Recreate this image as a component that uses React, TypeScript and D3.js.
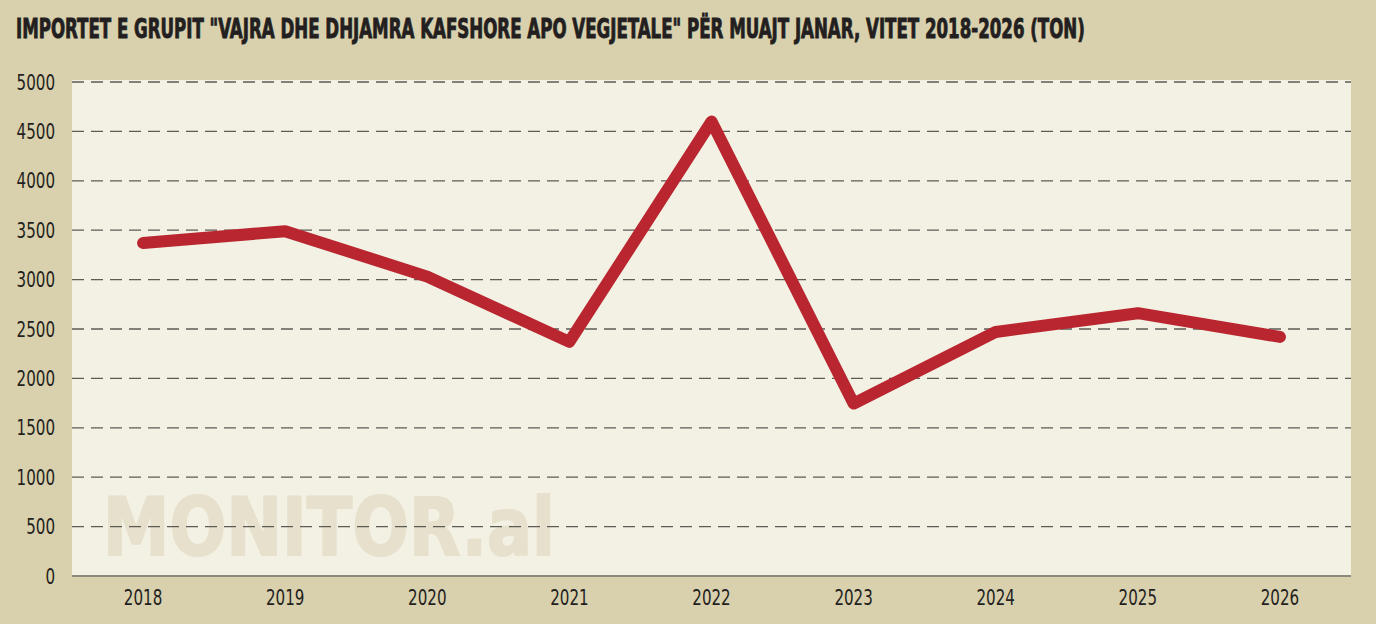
import React, { useLayoutEffect, useRef, useState } from "react";
import * as d3 from "d3";

const years = ["2018", "2019", "2020", "2021", "2022", "2023", "2024", "2025", "2026"];
const imports = [3370, 3490, 3030, 2370, 4600, 1745, 2470, 2660, 2420];
const yTicks = [0, 500, 1000, 1500, 2000, 2500, 3000, 3500, 4000, 4500, 5000];
const title = "IMPORTET E GRUPIT \"VAJRA DHE DHJAMRA KAFSHORE APO VEGJETALE\" PËR MUAJT JANAR, VITET 2018-2026 (TON)";
const watermark = "MONITOR.al";

const W = 1376;
const H = 624;
const plot = { left: 72, right: 1351, top: 80, bottom: 576 };

function FitText(props: {
  x: number;
  y: number;
  width: number;
  children: string;
  [k: string]: any;
}) {
  const { x, y, width, children, ...rest } = props;
  const ref = useRef<SVGTextElement>(null);
  const [s, setS] = useState(1);
  useLayoutEffect(() => {
    if (ref.current) {
      const len = ref.current.getComputedTextLength();
      if (len > 0) setS(width / len);
    }
  }, [width, children]);
  return (
    <g transform={`translate(${x},${y}) scale(${s},1)`}>
      <text ref={ref} x={0} y={0} {...rest}>
        {children}
      </text>
    </g>
  );
}

export default function App() {
  const x = d3.scaleBand<string>().domain(years).range([plot.left, plot.right]);
  const y = d3.scaleLinear().domain([0, 5000]).range([plot.bottom, 82]);
  const line = d3
    .line<number>()
    .x((_, i) => (x(years[i]) as number) + x.bandwidth() / 2)
    .y((d) => y(d));
  const narrow = "'DejaVu Sans Condensed', 'DejaVu Sans', sans-serif";
  const sx = 0.8;
  return (
    <svg
      width={W}
      height={H}
      style={{ position: "absolute", left: 0, top: 0, display: "block" }}
    >
      <rect x={0} y={0} width={W} height={H} fill="#d9d0ad" />
      <FitText
        x={16}
        y={38}
        width={1070}
        fontFamily="'DejaVu Sans Condensed', 'DejaVu Sans', sans-serif"
        fontWeight="bold"
        fontSize={27}
        fill="#231f20"
        stroke="#231f20"
        strokeWidth={0.9}
      >
        {title}
      </FitText>
      <rect
        x={plot.left}
        y={plot.top}
        width={plot.right - plot.left}
        height={plot.bottom - plot.top}
        fill="#f3f0e4"
      />
      <FitText
        x={103}
        y={555}
        width={452}
        fontFamily="'DejaVu Sans', sans-serif"
        fontWeight="bold"
        fontSize={80}
        fill="#e6e0cc"
        stroke="#e6e0cc"
        strokeWidth={2}
      >
        {watermark}
      </FitText>
      {yTicks
        .filter((t) => t > 0)
        .map((t) => (
          <line
            key={t}
            x1={plot.left}
            x2={plot.right}
            y1={y(t)}
            y2={y(t)}
            stroke="#5e5b55"
            strokeWidth={1.3}
            strokeDasharray="12,7"
          />
        ))}
      <line
        x1={plot.left}
        x2={plot.right}
        y1={plot.bottom}
        y2={plot.bottom}
        stroke="#8d887c"
        strokeWidth={2}
      />
      {yTicks.map((t) => (
        <g key={t} transform={`translate(55,${y(t)}) scale(${sx},1)`}>
          <text
            x={0}
            y={0}
            dy="0.36em"
            textAnchor="end"
            fontFamily={narrow}
            fontSize={21}
            fill="#231f20"
          >
            {t}
          </text>
        </g>
      ))}
      {years.map((yr) => (
        <g
          key={yr}
          transform={`translate(${(x(yr) as number) + x.bandwidth() / 2},605) scale(${sx},1)`}
        >
          <text
            x={0}
            y={0}
            textAnchor="middle"
            fontFamily={narrow}
            fontSize={21}
            fill="#231f20"
          >
            {yr}
          </text>
        </g>
      ))}
      <path
        d={line(imports) || ""}
        fill="none"
        stroke="#b9262f"
        strokeWidth={12}
        strokeLinecap="round"
        strokeLinejoin="round"
      />
    </svg>
  );
}
